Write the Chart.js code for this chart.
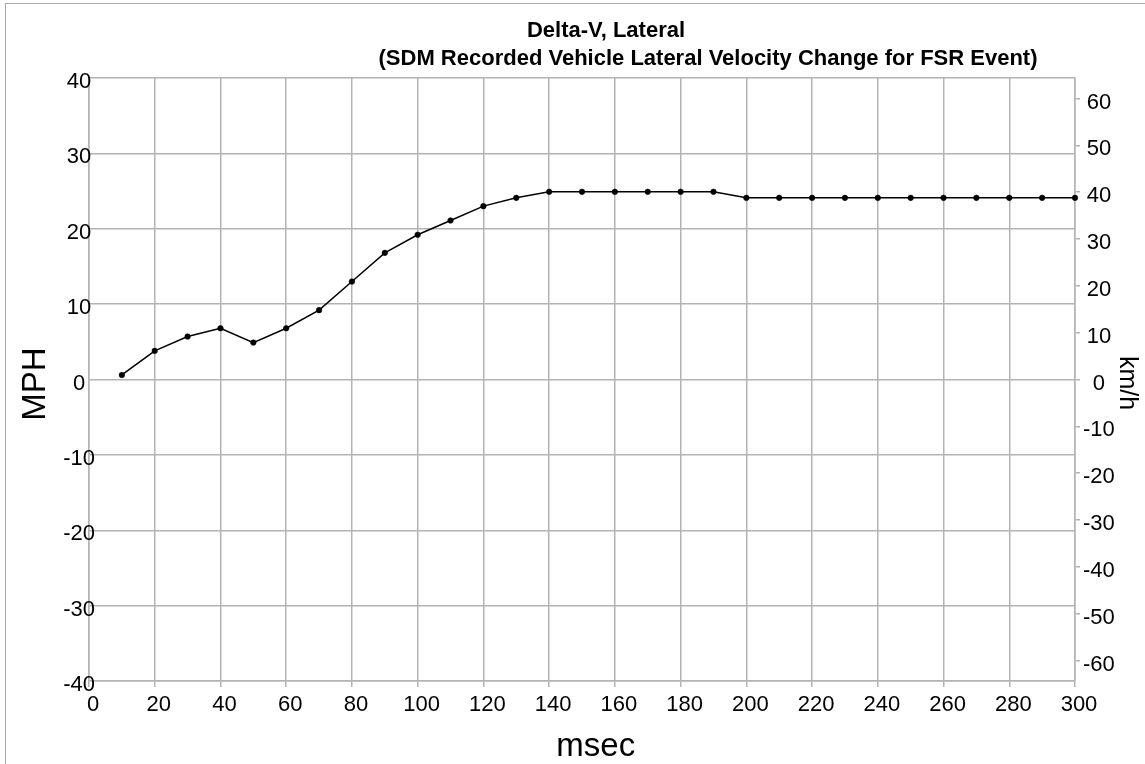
<!DOCTYPE html>
<html>
<head>
<meta charset="utf-8">
<script src="https://cdn.jsdelivr.net/npm/chart.js@4.4.1/dist/chart.umd.min.js"></script>
<style>
  html, body { margin: 0; padding: 0; background: #fff; overflow: hidden; }
  #wrap { position: relative; width: 1145px; height: 764px; }
  #frame { position: absolute; left: 5px; top: 3px; width: 1160px; height: 780px;
           border: 1px solid #a8a8a8; pointer-events: none; }
  canvas { position: absolute; left: 0; top: 0; }
</style>
</head>
<body>
<div id="wrap">
  <canvas id="chart" width="1145" height="764"></canvas>
  <div id="frame"></div>
</div>
<script>
const titleLines = ["Delta-V, Lateral", "(SDM Recorded Vehicle Lateral Velocity Change for FSR Event)"];

const msecTimes = [10, 20, 30, 40, 50, 60, 70, 80, 90, 100,
  110, 120, 130, 140, 150, 160, 170, 180, 190, 200,
  210, 220, 230, 240, 250, 260, 270, 280, 290, 300];

const lateralMph = [0.6, 3.8, 5.7, 6.8, 4.9, 6.8, 9.2, 13.0, 16.8, 19.2,
  21.1, 23.0, 24.1, 24.9, 24.9, 24.9, 24.9, 24.9, 24.9, 24.1,
  24.1, 24.1, 24.1, 24.1, 24.1, 24.1, 24.1, 24.1, 24.1, 24.1];

const msecTicks = [0, 20, 40, 60, 80, 100, 120, 140, 160, 180, 200, 220, 240, 260, 280, 300];
const mphTicks = [-40, -30, -20, -10, 0, 10, 20, 30, 40];
const kmhTicks = [-60, -50, -40, -30, -20, -10, 0, 10, 20, 30, 40, 50, 60];

const MPH_TO_KMH = 1.609344;
const FONT = '"Liberation Sans", Arial, sans-serif';
const GRID = "#b3b3b3";

const titlePlugin = {
  id: "twoLineTitle",
  afterLayout(chart) {
    // the MPH labels hang a little over the plot edge, so don't clip them
    chart.scales.y._computeLabelArea = () => undefined;
  },
  afterDraw(chart) {
    const ctx = chart.ctx;
    ctx.save();
    ctx.font = "bold 22px " + FONT;
    ctx.fillStyle = "#000";
    ctx.textAlign = "center";
    ctx.textBaseline = "alphabetic";
    ctx.fillText(titleLines[0], 606, 37);
    ctx.fillText(titleLines[1], 708, 65);
    ctx.restore();
  }
};

function fixedTicks(list) {
  return scale => { scale.ticks = list.map(v => ({ value: v })); };
}

Chart.defaults.font.family = FONT;
Chart.defaults.color = "#000";

new Chart(document.getElementById("chart").getContext("2d"), {
  type: "line",
  data: {
    datasets: [{
      data: msecTimes.map((t, i) => ({ x: t, y: lateralMph[i] })),
      borderColor: "#000",
      borderWidth: 1.5,
      backgroundColor: "#000",
      pointRadius: 2.8,
      pointBorderWidth: 0.5,
      pointBackgroundColor: "#000",
      tension: 0,
      clip: false,
      yAxisID: "y"
    }]
  },
  plugins: [titlePlugin],
  options: {
    responsive: false,
    animation: false,
    devicePixelRatio: 1,
    layout: { padding: { top: 78, left: 0, right: 0, bottom: 0 } },
    plugins: { legend: { display: false }, tooltip: { enabled: false }, title: { display: false } },
    scales: {
      x: {
        type: "linear",
        min: 0,
        max: 300,
        afterBuildTicks: fixedTicks(msecTicks),
        afterFit: s => { s.height = 83; },
        grid: { color: GRID, lineWidth: 1.5, tickLength: 6, tickColor: GRID },
        border: { color: GRID, width: 1.5 },
        ticks: { font: { size: 22 }, padding: 5, labelOffset: 4, maxRotation: 0, autoSkip: false },
        title: {
          display: true,
          text: "\u00a0\u00a0\u00a0msec",
          font: { size: 33, lineHeight: 1 },
          padding: { top: 0, bottom: 1 }
        }
      },
      y: {
        position: "left",
        min: -40,
        max: 40,
        afterBuildTicks: fixedTicks(mphTicks),
        afterFit: s => { s.width = 89; },
        grid: { color: GRID, lineWidth: 1.5, drawTicks: false },
        border: { color: GRID, width: 1.5 },
        ticks: { font: { size: 22 }, padding: -6, crossAlign: "center", labelOffset: 4, autoSkip: false },
        title: {
          display: true,
          text: "MPH\u00a0",
          font: { size: 33, lineHeight: 1 },
          padding: { top: 19, bottom: 0 }
        }
      },
      y2: {
        position: "right",
        min: -40 * MPH_TO_KMH,
        max: 40 * MPH_TO_KMH,
        afterBuildTicks: fixedTicks(kmhTicks),
        afterFit: s => { s.width = 70; },
        grid: { drawOnChartArea: false, color: GRID, lineWidth: 1.5, tickLength: 5 },
        border: { color: GRID, width: 1.5 },
        ticks: { font: { size: 22 }, padding: 3, crossAlign: "center", labelOffset: 4, autoSkip: false },
        title: {
          display: true,
          text: "\u00a0km/h",
          font: { size: 25, lineHeight: 1 },
          padding: { top: 6, bottom: 0 }
        }
      }
    }
  }
});
</script>
</body>
</html>
